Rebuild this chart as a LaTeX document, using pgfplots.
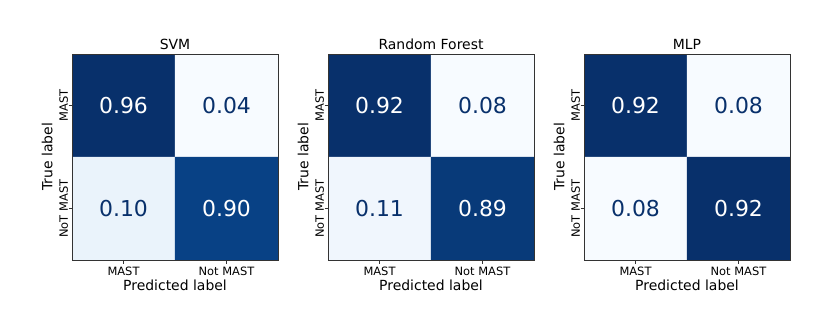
\documentclass[border=0pt]{standalone}
\usepackage{fontspec}
\setmainfont{DejaVu Sans}
\usepackage{pgfplots}
\usepackage{pgfplotstable}
\pgfplotsset{compat=1.18}

\definecolor{cmdark}{HTML}{08306B}

% cells: x = predicted, y = true (0 = MAST, 1 = NoT MAST)
\pgfplotstableread{
x y v
0 0 0.96
1 0 0.04
0 1 0.10
1 1 0.90
}\svmdata
\pgfplotstableread{
x y v
0 0 0.92
1 0 0.08
0 1 0.11
1 1 0.89
}\rfdata
\pgfplotstableread{
x y v
0 0 0.92
1 0 0.08
0 1 0.08
1 1 0.92
}\mlpdata

\pgfplotsset{
  colormap={blues}{rgb255=(247,251,255) rgb255=(222,235,247) rgb255=(198,219,239)
    rgb255=(158,202,225) rgb255=(107,174,214) rgb255=(66,146,198) rgb255=(33,113,181)
    rgb255=(8,81,156) rgb255=(8,48,107)},
  cm/.style={
    width=206bp, height=206bp, scale only axis,
    anchor=south west,
    xmin=-0.5, xmax=1.5, ymin=-0.5, ymax=1.5, y dir=reverse,
    enlargelimits=false,
    xtick={0,1}, ytick={0,1},
    xticklabels={MAST,Not MAST}, yticklabels={MAST,NoT MAST},
    tick align=outside, xtick pos=bottom, ytick pos=left,
    major tick length=3.5bp,
    tick style={black!80, line width=0.8bp},
    axis line style={black!80, line width=0.8bp},
    xticklabel style={font=\fontsize{11.5}{13}\selectfont},
    yticklabel style={font=\fontsize{11.5}{13}\selectfont, rotate=90, anchor=south},
    yticklabel shift=-3bp,
    xlabel={Predicted label}, ylabel={True label},
    label style={font=\fontsize{14}{16}\selectfont},
    xlabel style={yshift=3bp},
    title style={font=\fontsize{14}{16}\selectfont, yshift=-5bp},
    colormap name=blues,
    axis on top,
    /pgf/number format/assume math mode=true,
  },
  cells/.style={matrix plot*, mesh/cols=2, point meta=explicit},
  vals/.style={
    only marks, mark=none, point meta=explicit,
    visualization depends on={\thisrow{v} \as \cval},
    nodes near coords={\ifdim\cval pt>0.5pt\color{white}\else\color{cmdark}\fi
      \pgfmathprintnumber[fixed,zerofill,precision=2]{\pgfplotspointmeta}},
    every node near coord/.append style={anchor=center,
      font=\fontsize{22}{24}\selectfont},
  },
}

\begin{document}
\begin{tikzpicture}
\path[use as bounding box] (0,0) rectangle (831bp,333bp);

\begin{axis}[cm, at={(72bp,73bp)}, title={SVM},
  point meta min=0.04, point meta max=0.96]
\addplot[cells] table[x=x, y=y, meta=v] {\svmdata};
\addplot[vals] table[x=x, y=y, meta=v] {\svmdata};
\end{axis}

\begin{axis}[cm, at={(328bp,73bp)}, title={Random Forest},
  point meta min=0.08, point meta max=0.92]
\addplot[cells] table[x=x, y=y, meta=v] {\rfdata};
\addplot[vals] table[x=x, y=y, meta=v] {\rfdata};
\end{axis}

\begin{axis}[cm, at={(584bp,73bp)}, title={MLP},
  point meta min=0.08, point meta max=0.92]
\addplot[cells] table[x=x, y=y, meta=v] {\mlpdata};
\addplot[vals] table[x=x, y=y, meta=v] {\mlpdata};
\end{axis}
\end{tikzpicture}
\end{document}
